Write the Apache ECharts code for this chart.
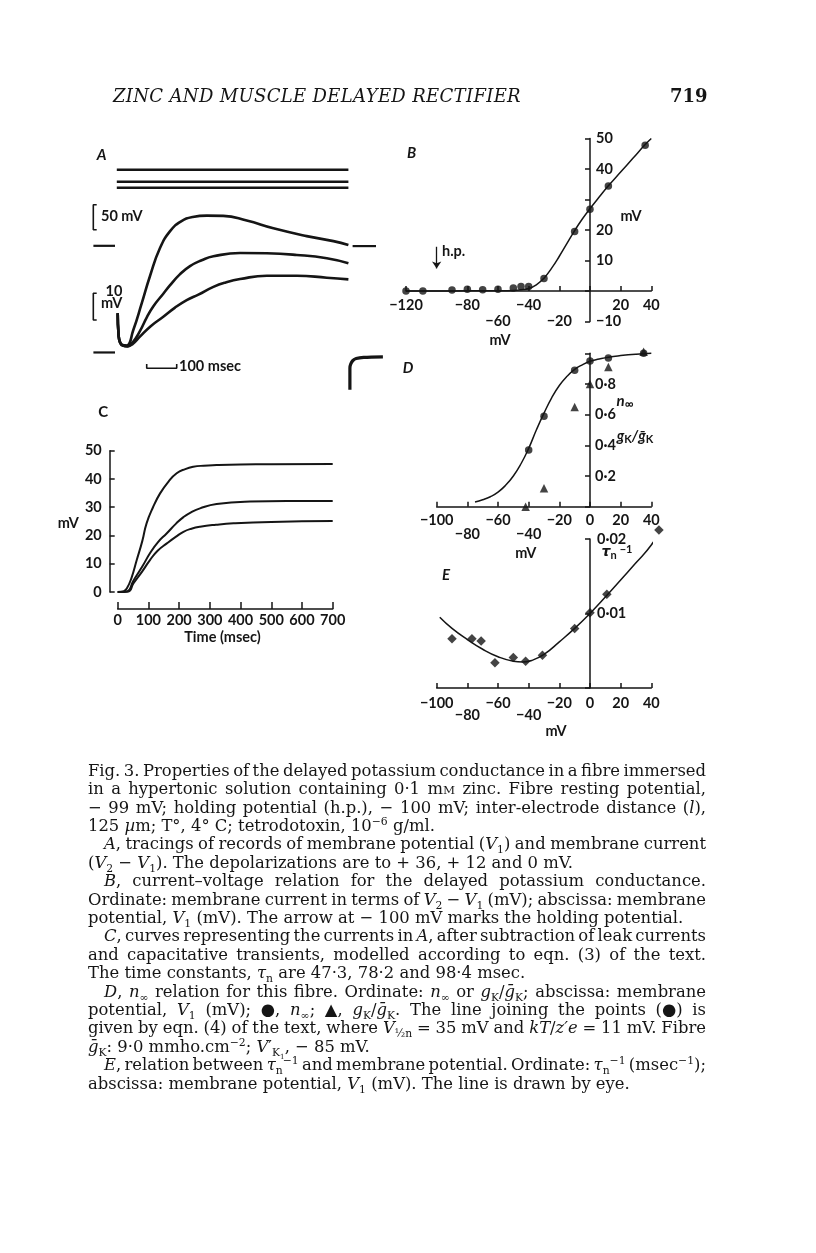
<!DOCTYPE html>
<html><head><meta charset="utf-8">
<script src="https://cdn.jsdelivr.net/npm/echarts@6/dist/echarts.min.js"></script>
<style>
html,body{margin:0;padding:0;background:#fff;}
#chart{position:absolute;left:0;top:0;width:816px;height:1253px;}
.txt{position:absolute;font-family:"DejaVu Serif",serif;color:#151515;white-space:nowrap;}
.cap{font-size:16.4px;line-height:18.4px;}
.cap sub,.cap sup{font-size:0.66em;line-height:0;}
.sc{font-size:0.72em;}
</style></head><body>
<div id="chart"></div>
<div id="hdr" class="txt" style="left:113px;top:85px;font-style:italic;font-size:18px;line-height:22px;">ZINC AND MUSCLE DELAYED RECTIFIER</div>
<div id="pg" class="txt" style="left:670px;top:85px;font-size:18px;line-height:22px;font-weight:bold;">719</div>
<script>
// ===================== DATA =====================
// Panel A (records): time in ms, current in mV (V2-V1), voltage in mV
const aVoltageLevels = [36, 12, 0];
const aVoltageSpan = [-3, 769];
const aCurrentTop = [[0,14.5],[3,6.5],[8,4],[16,3],[30,2.8],[52,8.4],[80,18],[108,28],[141,38],[174,44],[210,47.5],[250,49.2],[297,49.7],[352,49.6],[430,47.9],[519,45.1],[630,42.3],[719,40.5],[769,39.1]];
const aCurrentMid = [[0,14.5],[3,6.5],[8,3.9],[16,2.9],[32,2.6],[50,4.0],[74,8],[97,13],[119,17],[152,21.5],[174,24.5],[207,28.5],[241,31.5],[280,33.6],[319,35],[408,36.2],[497,36.1],[597,35.5],[697,34.3],[769,32.5]];
const aCurrentLow = [[0,14.5],[3,6.5],[8,3.8],[16,2.8],[34,2.5],[50,3.4],[74,6],[110,9.8],[152,13.2],[190,16.4],[230,19.2],[269,21.2],[319,24],[360,25.6],[408,26.8],[497,28],[597,28],[697,27.3],[769,26.7]];
const aTransient = [[774,-13.2],[774,-5.3],[777,-3.8],[784,-2.6],[795,-1.9],[820,-1.5],[884,-1.3]];
const aScale50mV = [[-70,-34],[-81.3,-34],[-81.3,-84],[-70,-84]];
const aScale10mV = [[-70,21.7],[-81.3,21.7],[-81.3,12],[-70,12]];
const aScale100ms = [[96.7,-3.9],[96.7,-5.4],[196.7,-5.4],[196.7,-3.9]];
const aLevelMarks = [[[-81,38.8],[-9,38.8]], [[-81,0.3],[-9,0.3]], [[783,38.7],[861,38.7]]];

// Panel B: current-voltage relation
const bVoltage = [-120,-109,-90,-80,-70,-60,-50,-45,-40,-30,-10,0,12,36];
const bCurrent = [0,0,0.3,0.6,0.4,0.6,1,1.5,1.5,4.1,19.5,26.8,34.4,47.8];
const bCurve = [[-120,0],[-100,0],[-80,0.05],[-60,0.1],[-50,0.2],[-45,0.4],[-40,0.8],[-35,2],[-30,4.2],[-25,7.5],[-20,11.4],[-15,15.6],[-10,19.8],[-5,23.6],[0,27],[6,30.8],[12,34.5],[20,39],[28,43.5],[36,48],[40,50]];
const bHoldingArrow = {v: -100, from: 14.5, to: 7.4};
const bXTicksLower = [-100,-60,-20];
const bYTicks = [50,40,20,10,-10];

// Panel C: modelled currents
const cTop = [[0,0],[20,0.3],[30,1.3],[45,5],[62,11.3],[80,18],[94,24.3],[115,30],[138,34.9],[165,39],[192,42],[220,43.5],[246,44.3],[280,44.7],[322,44.9],[400,45.1],[500,45.2],[700,45.3]];
const cMid = [[0,0],[30,0.2],[51,4],[80,9],[105,13.7],[130,17.5],[160,20.8],[190,24.2],[214,26.5],[240,28.3],[268,29.6],[322,31.1],[431,32],[550,32.2],[700,32.2]];
const cLow = [[0,0],[35,0.2],[51,3],[80,7.3],[105,11.3],[130,14.6],[160,17.2],[190,19.6],[214,21.3],[240,22.4],[268,23.1],[320,23.8],[377,24.3],[500,24.8],[700,25.1]];

// Panel D: n-infinity and gK/gK-bar
const dCircles = [[-40,0.37],[-30,0.59],[-10,0.89],[0,0.95],[12,0.97],[35,1.0]];
const dTriangles = [[-42,0.0],[-30,0.12],[-10,0.65],[0,0.80],[12,0.91],[35,1.01]];
const dCurve = [[-75,0.03],[-70,0.045],[-65,0.065],[-60,0.095],[-55,0.14],[-50,0.2],[-45,0.28],[-40,0.38],[-35,0.5],[-30,0.61],[-25,0.71],[-20,0.79],[-15,0.85],[-10,0.895],[-5,0.925],[0,0.948],[6,0.963],[12,0.975],[20,0.985],[30,0.994],[40,1.0]];
const dXTicksLower = [-80,-40];
const dYTicks = [0.2,0.4,0.6,0.8];

// Panel E: 1/tau_n
const eDiamonds = [[-90,0.0066],[-77,0.0066],[-71,0.0063],[-62,0.0034],[-50,0.0041],[-42,0.0036],[-31,0.0044],[-10,0.0080],[0,0.0101],[11,0.0126],[45,0.0212]];
const eCurve = [[-98,0.0095],[-90,0.0080],[-80,0.0065],[-70,0.0052],[-60,0.0042],[-50,0.0036],[-44,0.0035],[-38,0.0037],[-30,0.0045],[-20,0.0062],[-10,0.0080],[0,0.0100],[10,0.0122],[20,0.0145],[30,0.0168],[40,0.0192],[50,0.0224]];
const eXTicksLower = [-80,-40];
const eYTicks = [0.01,0.02];

// ===================== CHART =====================
const INK = '#151515';
const LBL = {fontFamily:'Lato', fontWeight:'bold', fontSize:14.5, color:INK};
const minus = v => (v < 0 ? '\u2212' + Math.abs(v) : String(v));
const near = (v, arr) => arr.some(a => Math.abs(a - v) < 1e-9);
const dot = s => s.replace('.', '\u00b7');

function baseAxis(extra) {
  return Object.assign({
    type:'value',
    axisLine:{show:true, onZero:false, lineStyle:{color:INK, width:1.5}},
    axisTick:{show:true, inside:true, length:5, lineStyle:{color:INK, width:1.5}},
    splitLine:{show:false},
    minorTick:{show:false}
  }, extra);
}
function hidden(extra){ return Object.assign({type:'value', show:false, splitLine:{show:false}}, extra); }
function lineS(data, xi, yi, w, extra){
  return Object.assign({type:'line', data, xAxisIndex:xi, yAxisIndex:yi, showSymbol:false, symbol:'none',
    lineStyle:{color:INK, width:w}, clip:false, silent:true, animation:false}, extra||{});
}
function scat(data, xi, yi, sym, size){
  return {type:'scatter', data, xAxisIndex:xi, yAxisIndex:yi, symbol:sym, symbolSize:size,
    itemStyle:{color:INK}, clip:false, silent:true, animation:false};
}
const G = {containLabel:false, outerBoundsMode:'none', show:false};

// grid boxes
const gA = {left:90.7, top:150, width:303, height:250};
const gB = {left:406, top:138.5, width:245.3, height:183};
const gC = {left:117.7, top:450.7, width:215, height:141.3};
const gD = {left:436.7, top:353.3, width:214.6, height:153.4};
const gE = {left:436.7, top:539, width:214.6, height:149};
const grids = [gA,gB,gC,gD,gE].map(g => Object.assign({}, g, G));

// positions of the zero lines (derived from the axis ranges)
const bZeroY = gB.top + gB.height * (50 / 60);
const bZeroX = gB.left + gB.width * (120 / 160);
const dZeroX = gD.left + gD.width * (100 / 140);
const eZeroX = gE.left + gE.width * (100 / 140);

const xAxes = [
  hidden({gridIndex:0, min:-90, max:920}),
  baseAxis({gridIndex:1, min:-120, max:40, interval:20, position:'bottom', offset:-(gB.top + gB.height - bZeroY),
    axisLabel:Object.assign({margin:6, lineHeight:16, showMinLabel:true, showMaxLabel:true,
      formatter:v => near(v,[0]) ? '' : (near(v,bXTicksLower) ? '\n'+minus(v) : minus(v))}, LBL)}),
  baseAxis({gridIndex:2, min:0, max:700, interval:100, offset:17,
    axisTick:{show:true, inside:true, length:7, lineStyle:{color:INK,width:1.5}},
    axisLabel:Object.assign({margin:4, showMinLabel:true, showMaxLabel:true}, LBL)}),
  baseAxis({gridIndex:3, min:-100, max:40, interval:20, position:'bottom',
    axisLabel:Object.assign({margin:7, lineHeight:13.5, showMinLabel:true, showMaxLabel:true,
      formatter:v => near(v,dXTicksLower) ? '\n'+minus(v) : minus(v)}, LBL)}),
  baseAxis({gridIndex:4, min:-100, max:40, interval:20, position:'bottom',
    axisLabel:Object.assign({margin:9, lineHeight:12.5, showMinLabel:true, showMaxLabel:true,
      formatter:v => near(v,eXTicksLower) ? '\n'+minus(v) : minus(v)}, LBL)})
];

const yAxes = [
  hidden({gridIndex:0, min:-16.86, max:73.39}),   // A current
  hidden({gridIndex:0, min:-424.6, max:75.4}),    // A voltage
  baseAxis({gridIndex:1, min:-10, max:50, interval:10, position:'right', offset:-(gB.left + gB.width - bZeroX),
    axisLabel:Object.assign({margin:6, showMinLabel:true, showMaxLabel:true,
      formatter:v => near(v,bYTicks) ? minus(v) : ''}, LBL)}),
  baseAxis({gridIndex:2, min:0, max:50, interval:10, position:'left', offset:8,
    axisLabel:Object.assign({margin:8, showMinLabel:true, showMaxLabel:true}, LBL)}),
  baseAxis({gridIndex:3, min:0, max:1, interval:0.2, position:'right', offset:-(gD.left + gD.width - dZeroX),
    axisLabel:Object.assign({margin:5, showMinLabel:true, showMaxLabel:true,
      formatter:v => near(v,dYTicks) ? dot(v.toFixed(1)) : ''}, LBL)}),
  baseAxis({gridIndex:4, min:0, max:0.02, interval:0.01, position:'right', offset:-(gE.left + gE.width - eZeroX),
    axisLabel:Object.assign({margin:7, showMinLabel:true, showMaxLabel:true,
      formatter:v => near(v,eYTicks) ? dot(v.toFixed(2)) : ''}, LBL)})
];

const SM = {smooth:0.5};
const series = [];
aVoltageLevels.forEach(lv => series.push(lineS(aVoltageSpan.map(t => [t, lv]), 0, 1, 2.4)));
[aCurrentTop, aCurrentMid, aCurrentLow].forEach(d => series.push(lineS(d, 0, 0, 2.6, SM)));
series.push(lineS(aTransient, 0, 0, 3.2, {smooth:0.3}));
series.push(lineS(aScale50mV, 0, 1, 1.6));
series.push(lineS(aScale10mV, 0, 0, 1.6));
series.push(lineS(aScale100ms, 0, 0, 1.6));
aLevelMarks.forEach(m => series.push(lineS(m, 0, 0, 2.2)));
series.push(lineS(bCurve, 1, 2, 1.5, SM));
const bPts = scat(bVoltage.map((v,i)=>[v,bCurrent[i]]), 1, 2, 'circle', 7.5);
bPts.markLine = {silent:true, symbol:['none','arrow'], symbolSize:7, animation:false,
  lineStyle:{color:INK, width:1.3, type:'solid'}, label:{show:false},
  data:[[{coord:[bHoldingArrow.v, bHoldingArrow.from]},{coord:[bHoldingArrow.v, bHoldingArrow.to]}]]};
series.push(bPts);
[cTop, cMid, cLow].forEach(d => series.push(lineS(d, 2, 3, 2, SM)));
series.push(lineS(dCurve, 3, 4, 1.5, SM));
series.push(scat(dCircles, 3, 4, 'circle', 7.5));
series.push(scat(dTriangles, 3, 4, 'triangle', 8.5));
series.push(lineS(eCurve, 4, 5, 1.5, SM));
series.push(scat(eDiamonds, 4, 5, 'diamond', 9.5));

function T(x, y, text, font, align, extra){
  return {type:'text', silent:true, style:Object.assign({x, y, text, font, fill:INK, align:align||'center', verticalAlign:'middle'}, extra||{})};
}
const SB = 'bold 14.5px Lato';
const SI = 'italic bold 15px Lato';
const graphics = [
  T(101.7,155,'A',SI), T(101,216.7,'50 mV',SB,'left'), T(105.5,291,'10',SB,'left'), T(101,303.5,'mV',SB,'left'),
  T(179,366,'100 msec',SB,'left'),
  T(411.7,153.3,'B',SI), T(442,251,'h.p.',SB,'left'), T(500,340,'mV',SB), T(631,216,'mV',SB),
  T(103.3,411.7,'C','bold 15px Lato'), T(68.3,523.3,'mV',SB), T(222.5,637.5,'Time (msec)',SB),
  T(408,368,'D',SI), T(525.8,553,'mV',SB),
  T(625,401,'{i|n}{s|\u221e}','',null,{rich:{i:{font:'italic bold 15px Lato',fill:INK},s:{font:'bold 12px Lato',fill:INK,padding:[6,0,0,0]}}}),
  T(635,436,'{i|g}{s|K}{i|/}{i|g\u0304}{s|K}','',null,{rich:{i:{font:'italic bold 15px Lato',fill:INK},s:{font:'bold 11px Lato',fill:INK,padding:[6,0,0,0]}}}),
  T(446,575,'E',SI), T(556,731.7,'mV',SB),
  T(617,552,'{i|\u03c4}{s|n}{p|\u22121}','',null,{rich:{i:{font:'italic bold 14px DejaVu Sans',fill:INK},s:{font:'bold 11px Lato',fill:INK,padding:[6,0,0,0]},p:{font:'bold 11px Lato',fill:INK,padding:[0,0,6,3]}}})
];

const chart = echarts.init(document.getElementById('chart'), null, {renderer:'canvas'});
chart.setOption({
  backgroundColor:'#ffffff', animation:false,
  grid:grids, xAxis:xAxes, yAxis:yAxes, series, graphic:{elements:graphics}
});

// ===================== CAPTION =====================
const captionLines = [
 {t:'Fig. 3. Properties of the delayed potassium conductance in a fibre immersed', j:1},
 {t:'in a hypertonic solution containing 0·1 m<span class="sc">M</span> zinc. Fibre resting potential,', j:1},
 {t:'− 99 mV; holding potential (h.p.), − 100 mV; inter-electrode distance (<i>l</i>),', j:1},
 {t:'125 <i>µ</i>m; T°, 4° C; tetrodotoxin, 10<sup>−6</sup> g/ml.', j:0},
 {t:'<i>A</i>, tracings of records of membrane potential (<i>V</i><sub>1</sub>) and membrane current', j:1, ind:1},
 {t:'(<i>V</i><sub>2</sub> − <i>V</i><sub>1</sub>). The depolarizations are to + 36, + 12 and 0 mV.', j:0},
 {t:'<i>B</i>, current–voltage relation for the delayed potassium conductance.', j:1, ind:1},
 {t:'Ordinate: membrane current in terms of <i>V</i><sub>2</sub> − <i>V</i><sub>1</sub> (mV); abscissa: membrane', j:1},
 {t:'potential, <i>V</i><sub>1</sub> (mV). The arrow at − 100 mV marks the holding potential.', j:0},
 {t:'<i>C</i>, curves representing the currents in <i>A</i>, after subtraction of leak currents', j:1, ind:1},
 {t:'and capacitative transients, modelled according to eqn. (3) of the text.', j:1},
 {t:'The time constants, <i>τ</i><sub>n</sub> are 47·3, 78·2 and 98·4 msec.', j:0},
 {t:'<i>D</i>, <i>n</i><sub>∞</sub> relation for this fibre. Ordinate: <i>n</i><sub>∞</sub> or <i>g</i><sub>K</sub>/<i>ḡ</i><sub>K</sub>; abscissa: membrane', j:1, ind:1},
 {t:'potential, <i>V</i><sub>1</sub> (mV); ●, <i>n</i><sub>∞</sub>; ▲, <i>g</i><sub>K</sub>/<i>ḡ</i><sub>K</sub>. The line joining the points (●) is', j:1},
 {t:'given by eqn. (4) of the text, where <i>V</i><sub>½n</sub> = 35 mV and <i>kT</i>/<i>z′e</i> = 11 mV. Fibre', j:1},
 {t:'<i>ḡ</i><sub>K</sub>: 9·0 mmho.cm<sup>−2</sup>; <i>V</i>′<sub>K<sub>1</sub></sub>, − 85 mV.', j:0},
 {t:'<i>E</i>, relation between <i>τ</i><sub>n</sub><sup>−1</sup> and membrane potential. Ordinate: <i>τ</i><sub>n</sub><sup>−1</sup> (msec<sup>−1</sup>);', j:1, ind:1},
 {t:'abscissa: membrane potential, <i>V</i><sub>1</sub> (mV). The line is drawn by eye.', j:0}
];
const CAP_LEFT = 88, CAP_RIGHT = 706, CAP_Y0 = 771, CAP_STEP = 18.4, CAP_INDENT = 16;
captionLines.forEach((ln, i) => {
  const d = document.createElement('div');
  d.className = 'txt cap';
  d.innerHTML = ln.t;
  const left = CAP_LEFT + (ln.ind ? CAP_INDENT : 0);
  d.style.left = left + 'px';
  d.style.top = (CAP_Y0 + i * CAP_STEP - 9.2) + 'px';
  document.body.appendChild(d);
  if (ln.j) {
    const W = CAP_RIGHT - left;
    const w = d.getBoundingClientRect().width;
    const n = (d.textContent.match(/ /g) || []).length;
    if (n) d.style.wordSpacing = ((W - w) / n) + 'px';
  }
});
(function(){
  const h = document.getElementById('hdr');
  const w = h.getBoundingClientRect().width;
  const n = h.textContent.length;
  h.style.letterSpacing = ((408 - w) / n) + 'px';
})();
</script>
</body></html>
